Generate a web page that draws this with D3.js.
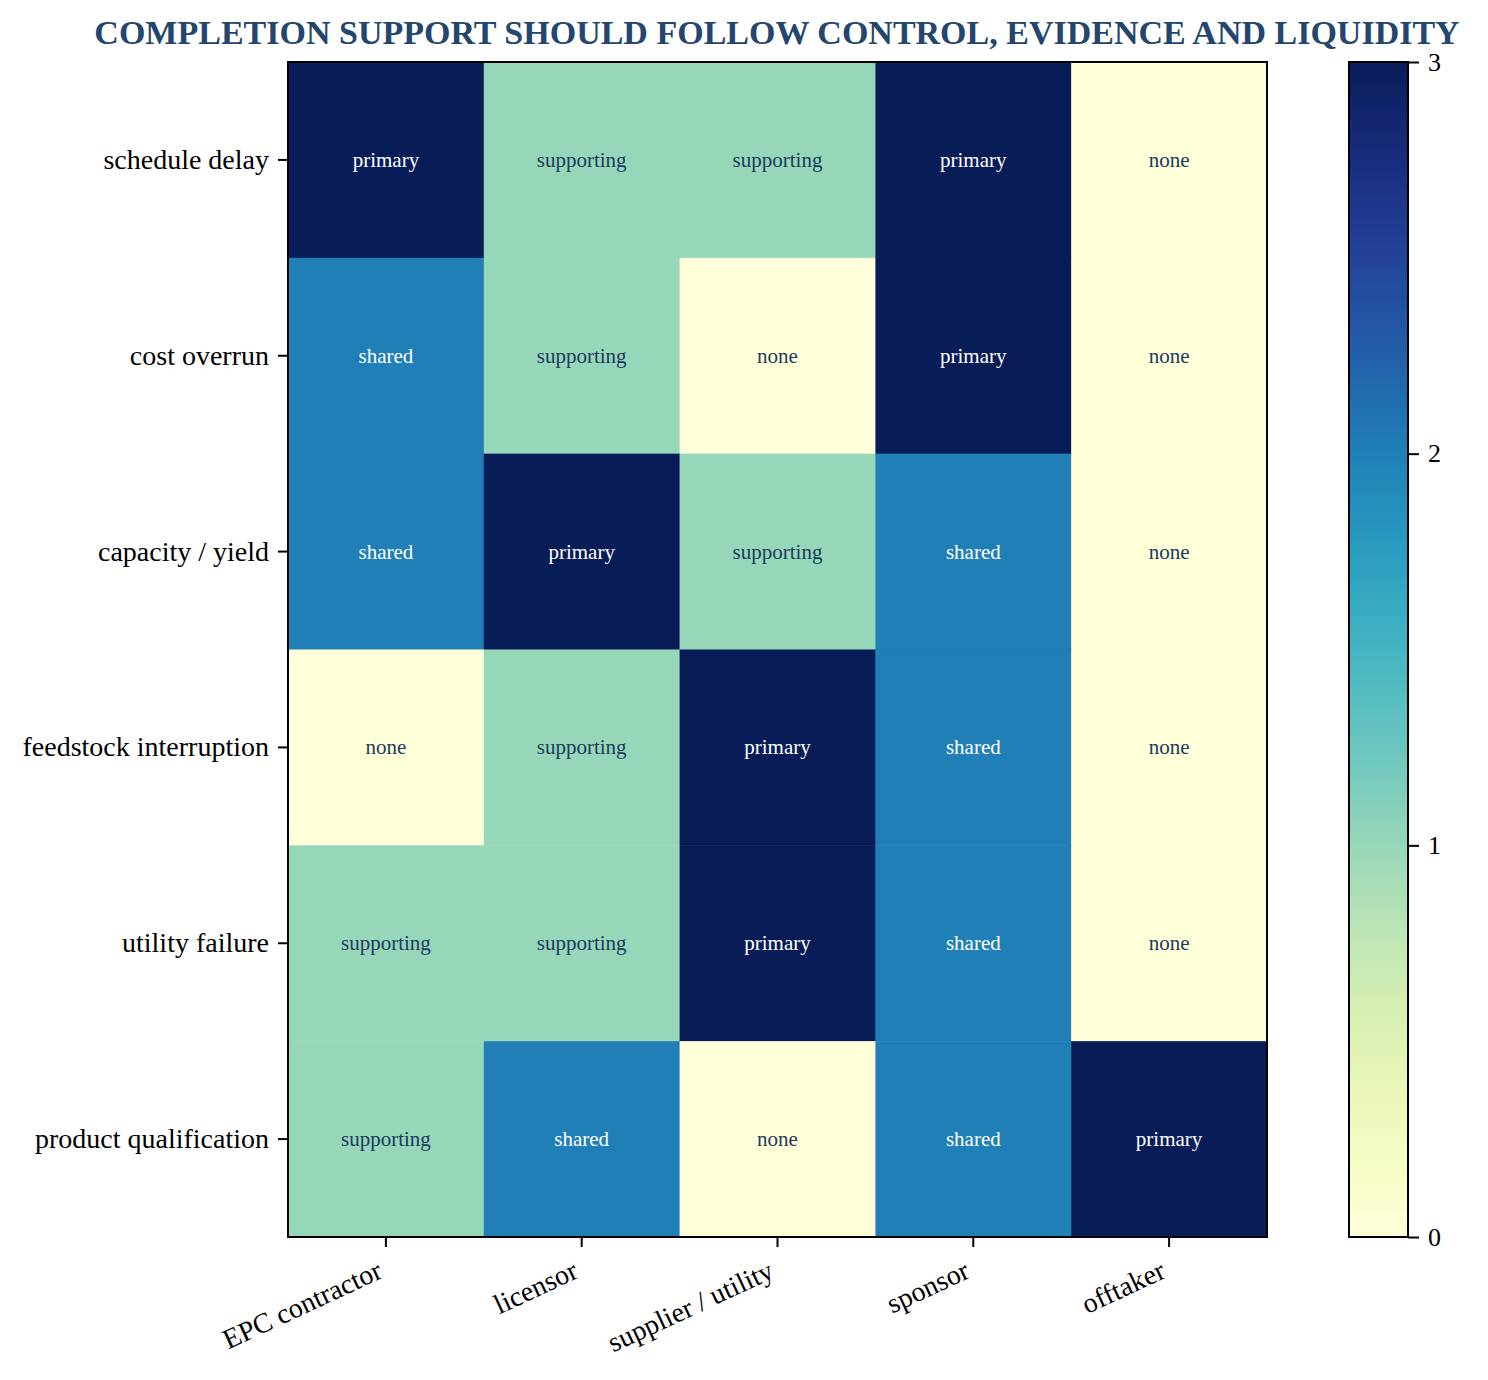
<!DOCTYPE html>
<html>
<head>
<script src="https://d3js.org/d3.v7.min.js"></script>
<style>
  body { margin: 0; background: #fff; }
  svg { font-family: "Liberation Serif", "DejaVu Serif", serif; }
</style>
</head>
<body>
<div id="chart"></div>
<script>
// risk rows, counterparty columns, support level per cell
var risks = ["schedule delay", "cost overrun", "capacity / yield",
             "feedstock interruption", "utility failure", "product qualification"];
var parties = ["EPC contractor", "licensor", "supplier / utility", "sponsor", "offtaker"];
var levelNames = ["none", "supporting", "shared", "primary"];

var scheduleDelay = [3, 1, 1, 3, 0];
var costOverrun = [2, 1, 0, 3, 0];
var capacityYield = [2, 3, 1, 2, 0];
var feedstockInterruption = [0, 1, 3, 2, 0];
var utilityFailure = [1, 1, 3, 2, 0];
var productQualification = [1, 2, 0, 2, 3];

var colorTicks = [0, 1, 2, 3];

var matrix = [scheduleDelay, costOverrun, capacityYield,
              feedstockInterruption, utilityFailure, productQualification];

var cells = [];
matrix.forEach(function (row, i) {
  row.forEach(function (v, j) {
    cells.push({ risk: risks[i], party: parties[j], value: v });
  });
});

var width = 1488, height = 1380;
var plotL = 288, plotR = 1267, plotT = 62, plotB = 1237;

var svg = d3.select("#chart").append("svg")
  .attr("width", width)
  .attr("height", height);

var x = d3.scaleBand().domain(parties).range([plotL, plotR]);
var y = d3.scaleBand().domain(risks).range([plotT, plotB]);
var color = d3.scaleSequential(d3.interpolateYlGnBu).domain([0, 3]);

// title
svg.append("text")
  .attr("x", 777)
  .attr("y", 44)
  .attr("text-anchor", "middle")
  .style("font-size", "34px")
  .style("font-weight", "bold")
  .style("fill", "#24466e")
  .text("COMPLETION SUPPORT SHOULD FOLLOW CONTROL, EVIDENCE AND LIQUIDITY");

// cells
svg.append("g").selectAll("rect")
  .data(cells)
  .enter().append("rect")
  .attr("x", function (d) { return x(d.party); })
  .attr("y", function (d) { return y(d.risk); })
  .attr("width", x.bandwidth() + 0.5)
  .attr("height", y.bandwidth() + 0.5)
  .attr("fill", function (d) { return color(d.value); });

svg.append("g").selectAll("text")
  .data(cells)
  .enter().append("text")
  .attr("x", function (d) { return x(d.party) + x.bandwidth() / 2; })
  .attr("y", function (d) { return y(d.risk) + y.bandwidth() / 2; })
  .attr("dy", "0.33em")
  .attr("text-anchor", "middle")
  .style("font-size", "21px")
  .style("fill", function (d) { return d.value >= 2 ? "#ffffff" : "#1d3a5e"; })
  .text(function (d) { return levelNames[d.value]; });

// frame
svg.append("rect")
  .attr("x", plotL).attr("y", plotT)
  .attr("width", plotR - plotL).attr("height", plotB - plotT)
  .attr("fill", "none")
  .attr("stroke", "#000")
  .attr("stroke-width", 2);

// axes
var xAxis = svg.append("g")
  .attr("transform", "translate(0," + plotB + ")")
  .call(d3.axisBottom(x).tickSize(10));
xAxis.select(".domain").remove();
xAxis.selectAll("line").attr("stroke-width", 2);
xAxis.selectAll("text")
  .style("font-size", "28px")
  .style("font-family", "Liberation Serif")
  .attr("text-anchor", "end")
  .attr("x", 0).attr("y", 0).attr("dy", 0)
  .attr("transform", "translate(-2,40) rotate(-25)");

var yAxis = svg.append("g")
  .attr("transform", "translate(" + plotL + ",0)")
  .call(d3.axisLeft(y).tickSize(10).tickPadding(9));
yAxis.select(".domain").remove();
yAxis.selectAll("line").attr("stroke-width", 2);
yAxis.selectAll("text")
  .style("font-size", "28px")
  .style("font-family", "Liberation Serif");

// colorbar
var cbLeft = 1349, cbWidth = 59;
var defs = svg.append("defs");
var grad = defs.append("linearGradient")
  .attr("id", "cbgrad")
  .attr("x1", "0").attr("y1", "1").attr("x2", "0").attr("y2", "0");
d3.range(0, 1.0001, 0.05).forEach(function (t) {
  grad.append("stop")
    .attr("offset", t)
    .attr("stop-color", color(t * 3));
});

var cbScale = d3.scaleLinear().domain([0, 3]).range([plotB, plotT]);

svg.append("rect")
  .attr("x", cbLeft).attr("y", plotT)
  .attr("width", cbWidth).attr("height", plotB - plotT)
  .attr("fill", "url(#cbgrad)")
  .attr("stroke", "#000")
  .attr("stroke-width", 2);

var cbAxis = svg.append("g")
  .attr("transform", "translate(" + (cbLeft + cbWidth) + ",0)")
  .call(d3.axisRight(cbScale).tickValues(colorTicks).tickFormat(d3.format("d")).tickSize(11).tickPadding(9));
cbAxis.select(".domain").remove();
cbAxis.selectAll("line").attr("stroke-width", 2);
cbAxis.selectAll("text")
  .style("font-size", "26px")
  .style("font-family", "Liberation Serif");
</script>
</body>
</html>
